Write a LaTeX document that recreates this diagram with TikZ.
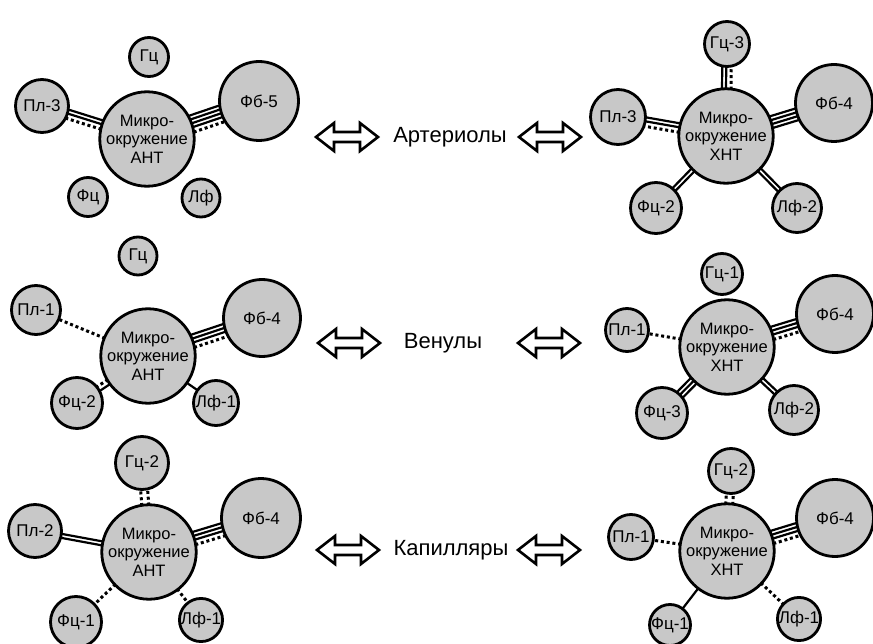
\documentclass[tikz,border=0pt]{standalone}
\usepackage{fontspec}
\setmainfont{Liberation Sans}
\usetikzlibrary{calc,backgrounds}
\definecolor{cellgray}{RGB}{200,200,200}
\tikzset{
  x=1pt,y=-1pt,
  cell/.style={circle,draw,line width=2.8pt,fill=cellgray,inner sep=0pt,
    minimum size=#1pt,font=\fontsize{17}{19}\selectfont},
  hub/.style={cell=90,align=center,font=\fontsize{16.5}{18.5}\selectfont},
  sol/.style={line width=2.2pt},
  dot/.style={line width=3pt,dash pattern=on 3pt off 2.8pt},
  caption/.style={font=\fontsize{22}{26}\selectfont},
  dblarr/.pic={\draw[line width=2.6pt,fill=white,miter limit=10]
    (-31,0) -- (-13,-14) -- (-13,-5) -- (13,-5) -- (13,-14) -- (31,0)
    -- (13,14) -- (13,5) -- (-13,5) -- (-13,14) -- cycle;}
}
% parallel strands between two cells: offset/style pairs
\newcommand\tie[3]{\foreach \o/\s in {#3}{%
  \draw[\s] ($(#1.center)!\o pt!90:(#2.center)$) -- ($(#2.center)!\o pt!-90:(#1.center)$);}}
\begin{document}
\begin{tikzpicture}
\useasboundingbox (0,0) rectangle (873,644);

% ---- arterioles ----
\node[hub] (a1) at (147,139) {Микро-\\окружение\\АНТ};
\node[cell=39] (a1g) at (149,57) {Гц};
\node[cell=53] (a1p) at (42,106) {Пл-3};
\node[cell=79] (a1f) at (259,101) {Фб-5};
\node[cell=39] (a1c) at (88,197) {Фц};
\node[cell=38] (a1l) at (201,198) {Лф};

\node[hub] (b1) at (726,136) {Микро-\\окружение\\ХНТ};
\node[cell=45] (b1g) at (727,44) {Гц-3};
\node[cell=55] (b1p) at (618,117) {Пл-3};
\node[cell=77] (b1f) at (834,103) {Фб-4};
\node[cell=51] (b1c) at (656,208) {Фц-2};
\node[cell=49] (b1l) at (797,208) {Лф-2};

\node[caption] (t1) at (450,137) {Артериолы};
\pic at (347,137) {dblarr};
\pic at (550,137) {dblarr};

% ---- venules ----
\node[hub] (a2) at (148,356) {Микро-\\окружение\\АНТ};
\node[cell=38] (a2g) at (138,256) {Гц};
\node[cell=49] (a2p) at (36,310) {Пл-1};
\node[cell=77] (a2f) at (262,318) {Фб-4};
\node[cell=51] (a2c) at (77,403) {Фц-2};
\node[cell=45] (a2l) at (216,403) {Лф-1};

\node[hub] (b2) at (727,347) {Микро-\\окружение\\ХНТ};
\node[cell=41] (b2g) at (722,274) {Гц-1};
\node[cell=43] (b2p) at (627,330) {Пл-1};
\node[cell=77] (b2f) at (835,314) {Фб-4};
\node[cell=51] (b2c) at (662,413) {Фц-3};
\node[cell=49] (b2l) at (794,410) {Лф-2};

\node[caption] (t2) at (443,343) {Венулы};
\pic at (349,343) {dblarr};
\pic at (549,343) {dblarr};

% ---- capillaries ----
\node[hub] (a3) at (149,552) {Микро-\\окружение\\АНТ};
\node[cell=53] (a3g) at (142,463) {Гц-2};
\node[cell=53] (a3p) at (35,531) {Пл-2};
\node[cell=79] (a3f) at (261,518) {Фб-4};
\node[cell=51] (a3c) at (76,622) {Фц-1};
\node[cell=43] (a3l) at (201,620) {Лф-1};

\node[hub] (b3) at (727,551) {Микро-\\окружение\\ХНТ};
\node[cell=45] (b3g) at (731,471) {Гц-2};
\node[cell=45] (b3p) at (631,537) {Пл-1};
\node[cell=77] (b3f) at (835,518) {Фб-4};
\node[cell=41] (b3c) at (670,625) {Фц-1};
\node[cell=43] (b3l) at (799,619) {Лф-1};

\node[caption] (t3) at (451,550) {Капилляры};
\pic at (348,550) {dblarr};
\pic at (549,550) {dblarr};

\begin{scope}[on background layer]
  \tie{a1}{a1p}{-4.5/sol,-0.5/sol,4.5/dot}
  \tie{a1}{a1f}{8.5/sol,4.5/sol,0.5/sol,-3.5/sol,-8.5/dot}

  \tie{b1}{b1g}{4.5/sol,0.5/sol,-4.5/dot}
  \tie{b1}{b1p}{-4.5/sol,-0.5/sol,4.5/dot}
  \tie{b1}{b1f}{6/sol,2/sol,-2/sol,-6/sol}
  \tie{b1}{b1c}{2/sol,-2/sol}
  \tie{b1}{b1l}{2/sol,-2/sol}

  \tie{a2}{a2p}{0/dot}
  \tie{a2}{a2f}{6.5/sol,2.5/sol,-1.5/sol,-6.5/dot}
  \tie{a2}{a2c}{2.5/sol,-2.5/dot}
  \tie{a2}{a2l}{0/sol}

  \tie{b2}{b2p}{0/dot}
  \tie{b2}{b2f}{6.5/sol,2.5/sol,-1.5/sol,-6.5/dot}
  \tie{b2}{b2c}{4/sol,0/sol,-4/sol}
  \tie{b2}{b2l}{2/sol,-2/sol}

  \tie{a3}{a3g}{3.5/dot,-3.5/dot}
  \tie{a3}{a3p}{2/sol,-2/sol}
  \tie{a3}{a3f}{6.5/sol,2.5/sol,-1.5/sol,-6.5/dot}
  \tie{a3}{a3c}{0/dot}
  \tie{a3}{a3l}{0/dot}

  \tie{b3}{b3g}{3.5/dot,-3.5/dot}
  \tie{b3}{b3p}{0/dot}
  \tie{b3}{b3f}{6.5/sol,2.5/sol,-1.5/sol,-6.5/dot}
  \tie{b3}{b3c}{0/sol}
  \tie{b3}{b3l}{0/dot}
\end{scope}
\end{tikzpicture}
\end{document}
